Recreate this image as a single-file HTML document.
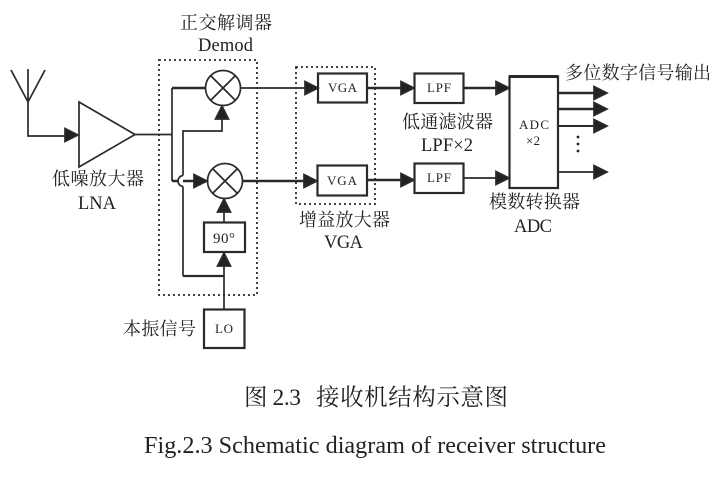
<!DOCTYPE html>
<html><head><meta charset="utf-8">
<style>
html,body{margin:0;padding:0;background:#fff;width:721px;height:477px;overflow:hidden}
svg{display:block}
text{font-family:"Liberation Serif","Noto Serif CJK SC",serif;fill:#222}
.c{font-size:18px}
.l{font-size:18.5px}
.s{font-size:13px}
</style></head><body>
<svg width="721" height="477" viewBox="0 0 721 477" xmlns="http://www.w3.org/2000/svg">
<defs>
<g id="h"><polygon points="0,0 -13,-6.500 -13,6.500" fill="#222"/></g>
<g id="u"><polygon points="0,0 -6.500,13 6.500,13" fill="#222"/></g>
</defs>
<g fill="none" stroke="#2a2a2a" stroke-width="1.700">
<!-- antenna -->
<path d="M11,70 L28,102 L45,70 M28,69 V136 H70"/>
<use href="#h" x="78" y="135"/>
<!-- LNA -->
<polygon points="79,102 79,167 135,134.500"/>
<path d="M135,134.500 H172"/>
<path d="M172,181 V88"/>
<path d="M172,88 H205" stroke-width="2.600"/>
<path d="M172,181 H178 M183,181 H197" stroke-width="2.600"/>
<path d="M178,181 A5.500,5.500 0 0 1 183,175.500 M178,181 A5.500,5.500 0 0 0 183,186.500"/>
<use href="#h" x="207" y="181"/>
<path d="M183,175.500 V131 H222 V118"/>
<use href="#u" x="222" y="106"/>
<path d="M183,186.500 V276"/>
<path d="M183,276 H224" stroke-width="2.200"/>
<path d="M224,309 V262"/>
<use href="#u" x="224" y="253"/>
<path d="M224,222 V210"/>
<use href="#u" x="224" y="199"/>
<!-- mixers -->
<circle cx="223" cy="88" r="17.500"/>
<path d="M210.600,75.600 L235.400,100.400 M235.400,75.600 L210.600,100.400"/>
<circle cx="225" cy="181" r="17.500"/>
<path d="M212.600,168.600 L237.400,193.400 M237.400,168.600 L212.600,193.400"/>
<!-- dotted -->
<rect x="159" y="60" width="98" height="235" stroke-dasharray="2 3" stroke-width="1.800"/>
<rect x="296" y="67" width="79" height="137" stroke-dasharray="2 3" stroke-width="1.800"/>
<!-- boxes -->
<rect x="204" y="222.500" width="41" height="29.500" stroke-width="2.200"/>
<rect x="204" y="309.500" width="40.500" height="38.500" stroke-width="2.200"/>
<rect x="318" y="73.500" width="49" height="29" stroke-width="2.200"/>
<rect x="317.500" y="165.500" width="49.500" height="30" stroke-width="2.200"/>
<rect x="414.500" y="73.500" width="49" height="29.500" stroke-width="2.200"/>
<rect x="414.500" y="163.500" width="49" height="29.500" stroke-width="2.200"/>
<rect x="509.500" y="76.500" width="48.500" height="111.500" stroke-width="2.200"/>
<path d="M509,76.500 H558" stroke-width="3"/>
<!-- signal lines -->
<path d="M241,88 H306"/>
<use href="#h" x="318" y="88"/>
<path d="M243,181 H306" stroke-width="2.600"/>
<use href="#h" x="317" y="181"/>
<path d="M367,88 H403" stroke-width="2.600"/>
<use href="#h" x="414" y="88"/>
<path d="M367,180 H403" stroke-width="2.600"/>
<use href="#h" x="414" y="180"/>
<path d="M463,88 H497" stroke-width="2.600"/>
<use href="#h" x="509" y="88"/>
<path d="M463,178 H497"/>
<use href="#h" x="509" y="178"/>
<path d="M558,93 H596" stroke-width="2.600"/>
<use href="#h" x="607" y="93"/>
<path d="M558,109 H596" stroke-width="2.600"/>
<use href="#h" x="607" y="109"/>
<path d="M558,126 H596" stroke-width="2"/>
<use href="#h" x="607" y="126"/>
<path d="M558,172 H596" stroke-width="1.800"/>
<use href="#h" x="607" y="172"/>
</g>
<g fill="#222">
<circle cx="578" cy="137" r="1.400"/>
<circle cx="578" cy="144" r="1.400"/>
<circle cx="578" cy="151" r="1.400"/>
</g>
<text class="c" x="180" y="29" textLength="92">正交解调器</text>
<text class="l" x="198" y="51" textLength="55">Demod</text>
<text class="c" x="52" y="185" textLength="92">低噪放大器</text>
<text class="l" x="78" y="209" textLength="38">LNA</text>
<text class="c" x="402" y="128" textLength="91">低通滤波器</text>
<text class="l" x="421" y="151" textLength="52">LPF×2</text>
<text class="c" x="299" y="226" textLength="91">增益放大器</text>
<text class="l" x="324" y="248" textLength="39">VGA</text>
<text class="c" x="489" y="208" textLength="91">模数转换器</text>
<text class="l" x="514" y="232" textLength="38">ADC</text>
<text class="c" x="565" y="79" textLength="146">多位数字信号输出</text>
<text class="c" x="123" y="335" textLength="73">本振信号</text>
<text class="s" x="328" y="92" textLength="29">VGA</text>
<text class="s" x="327" y="185" textLength="30">VGA</text>
<text class="s" x="427" y="92" textLength="24">LPF</text>
<text class="s" x="427" y="182" textLength="24">LPF</text>
<text class="s" x="519" y="129" textLength="30">ADC</text>
<text class="s" x="526" y="145" textLength="14">×2</text>
<text x="213" y="243" font-size="15" textLength="22">90°</text>
<text class="s" x="215" y="333" textLength="18">LO</text>
<text x="244" y="405" font-size="23.500" textLength="57">图 2.3</text>
<text x="316" y="405" font-size="23.500" textLength="192">接收机结构示意图</text>
<text x="144" y="453" font-size="24.200" textLength="462">Fig.2.3 Schematic diagram of receiver structure</text>
</svg>
</body></html>
